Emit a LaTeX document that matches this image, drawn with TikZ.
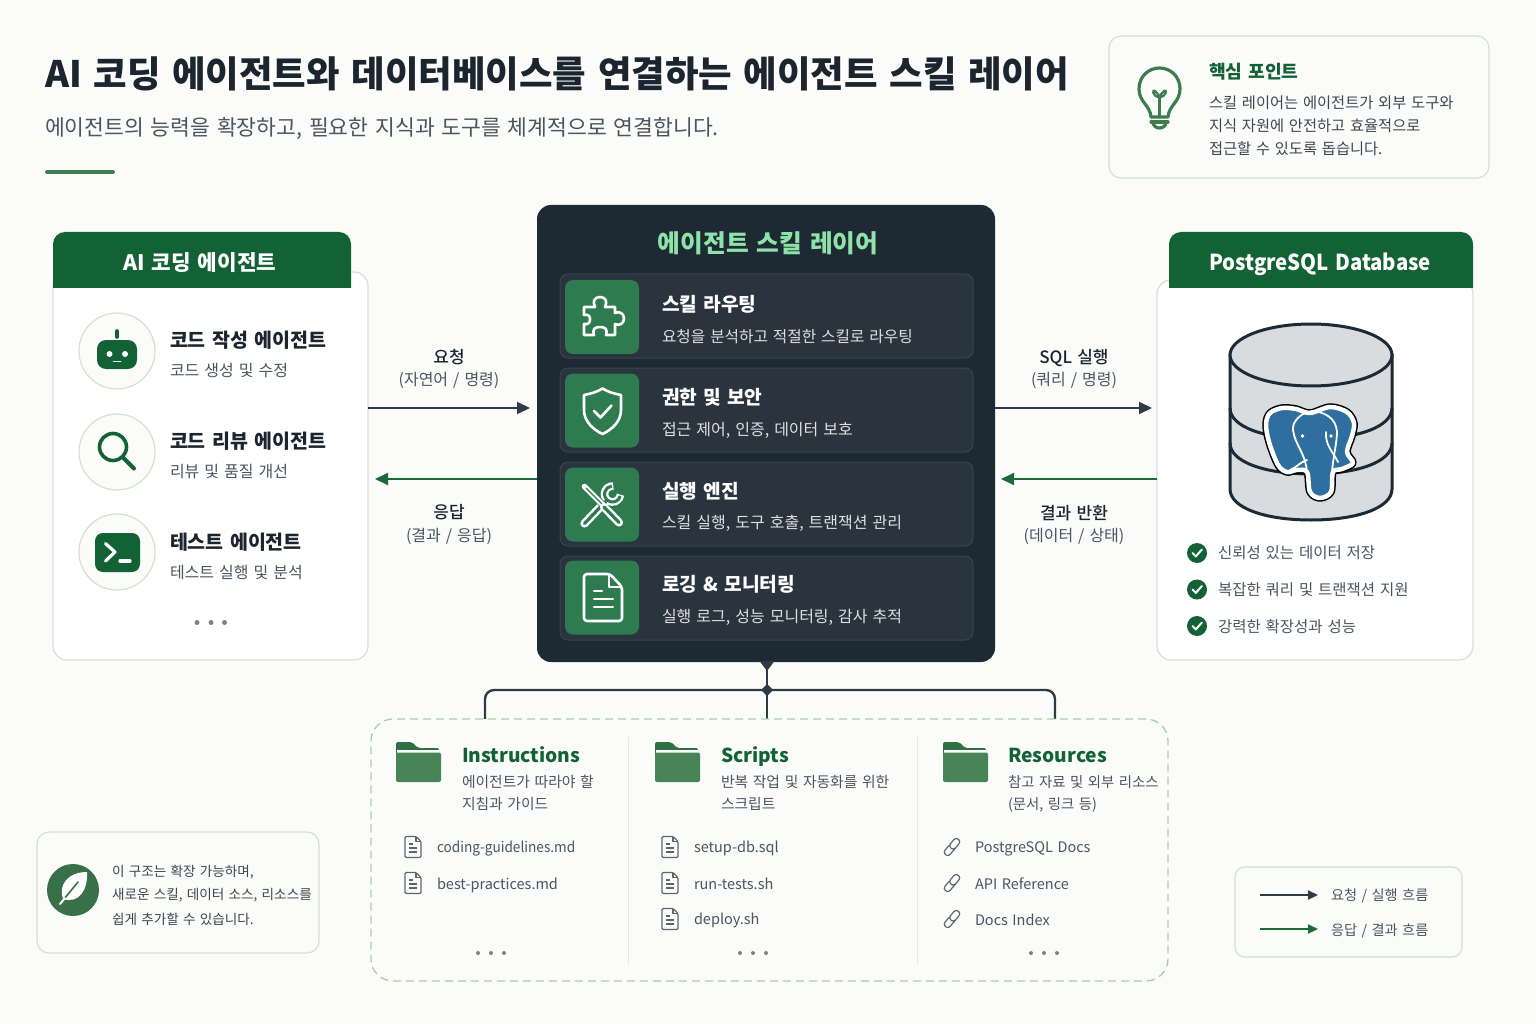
\documentclass[tikz,border=0pt]{standalone}
\usepackage{fontspec}
\setmainfont[WordSpace=1.4]{Noto Sans CJK KR}
\newfontfamily\krm[WordSpace=1.4]{Noto Sans CJK KR Medium}
\usetikzlibrary{arrows.meta,shapes.geometric}
\definecolor{bgc}{HTML}{FBFCFA}
\definecolor{hdrg}{HTML}{136236}
\definecolor{ink}{HTML}{1B2530}
\definecolor{subc}{HTML}{4A5560}
\definecolor{darkp}{HTML}{1E2A33}
\definecolor{rowc}{HTML}{29343E}
\definecolor{rowb}{HTML}{38444E}
\definecolor{tile}{HTML}{2E7B50}
\definecolor{mint}{HTML}{8FE3A9}
\definecolor{panelb}{HTML}{DADFDC}
\definecolor{softb}{HTML}{D2E2D2}
\definecolor{dashg}{HTML}{A5D1A5}
\definecolor{arrd}{HTML}{2F3A45}
\definecolor{arrg}{HTML}{1B6B3A}
\definecolor{folderb}{HTML}{2F7142}
\definecolor{folderf}{HTML}{478556}
\definecolor{bulb}{HTML}{3E7D4F}
\definecolor{pgblue}{HTML}{2F6F9F}
\definecolor{dbgray}{HTML}{D9DCDF}
\newcommand{\fs}[1]{\fontsize{#1}{#1}\selectfont}
\newcommand{\vstrut}{\rule{0pt}{1.04em}\rule[-.14em]{0pt}{.14em}}
\newcommand{\fileic}[2]{\begin{scope}[shift={(#1,#2)}]
\draw[icline,rounded corners=1.2pt] (-8,-10.5) -- (3,-10.5) -- (8,-5.5) -- (8,10.5) -- (-8,10.5) -- cycle;
\draw[icline] (3,-10.5) -- (3,-5.5) -- (8,-5.5);
\draw[icline] (-4,-3) -- (0,-3) (-4,1) -- (4,1) (-4,5) -- (4,5);
\end{scope}}
\newcommand{\linkic}[2]{\begin{scope}[shift={(#1,#2)},rotate=50]
\draw[icline,rounded corners=3pt] (-10,-3.3) rectangle (1.5,3.3);
\draw[icline,rounded corners=3pt,fill=bgc] (-1.5,-3.3) rectangle (10,3.3);
\draw[icline] (-1.5,3.3) -- (1.5,3.3);
\end{scope}}
\newcommand{\folderic}[2]{\begin{scope}[shift={(#1,#2)}]
\fill[folderb,rounded corners=2pt] (0,12) -- (0,0) -- (16,0) -- (22,6) -- (43,6) -- (43,16) -- (0,16) -- cycle;
\fill[white] (1,8) -- (43,8) -- (43,10.8) -- (1,10.8) -- cycle;
\fill[folderf,rounded corners=2pt] (0,10.5) -- (45,10.5) -- (45,40) -- (0,40) -- cycle;
\end{scope}}
\newcommand{\checkic}[2]{\fill[hdrg] (#1,#2) circle[radius=10];
\draw[white,line width=2pt,line cap=round,line join=round] (#1-4.5,#2) -- (#1-1.2,#2+3.4) -- (#1+4.8,#2-3.4);}
\newcommand{\threedots}[3]{\fill[#3] (#1-13,#2) circle[radius=2] (#1,#2) circle[radius=2] (#1+13,#2) circle[radius=2];}
\newcommand{\elephantpath}{plot[smooth cycle,tension=0.55] coordinates {(1310,413) (1296,409) (1282,408) (1270,413) (1266,424) (1269,442) (1278,465) (1287,472) (1297,470) (1307,472) (1310,492) (1320,498) (1331,492) (1333,472) (1342,469) (1353,463) (1347,452) (1352,436) (1354,423) (1347,412) (1330,407)}}
\tikzset{
 x=1pt,y=-1pt,
 lbl/.style={anchor=west,inner sep=0pt,outer sep=0pt,execute at begin node=\vstrut},
 ctr/.style={anchor=center,inner sep=0pt,outer sep=0pt,execute at begin node=\vstrut},
 panel/.style={draw=panelb,fill=white,line width=1.3pt,rounded corners=14pt,inner sep=0pt,outer sep=0pt},
 note/.style={draw=softb,fill=bgc,line width=1.2pt,rounded corners=12pt,inner sep=0pt,outer sep=0pt},
 rowbox/.style={draw=rowb,fill=rowc,line width=1pt,rounded corners=8pt,inner sep=0pt,outer sep=0pt,minimum width=413pt,minimum height=84pt},
 tilebox/.style={fill=tile,rounded corners=8pt,inner sep=0pt,outer sep=0pt,minimum width=74pt,minimum height=74pt},
 avatar/.style={circle,draw=softb,fill=bgc,line width=1.2pt,minimum size=76pt,inner sep=0pt,outer sep=0pt},
 hdtext/.style={ctr,text=white,font=\fs{21.3}\bfseries},
 agt/.style={lbl,text=ink,font=\fs{19.5}\bfseries},
 agd/.style={lbl,text=subc,font=\fs{16}},
 rowt/.style={lbl,text=white,font=\fs{19.2}\bfseries},
 rowd/.style={lbl,text=white!88!black,font=\fs{16}},
 edgelbl/.style={ctr,text=ink,font=\fs{17}\krm},
 edgesub/.style={ctr,text=subc,font=\fs{16}},
 colh/.style={lbl,text=hdrg,font=\fs{19.2}\bfseries},
 cold/.style={lbl,text=subc,font=\fs{14.8}},
 filetxt/.style={lbl,text=subc,font=\fs{14.5}},
 icline/.style={draw=subc!90,line width=1.2pt,line join=round},
 whiteic/.style={draw=white,line width=2.6pt,line join=round,line cap=round},
 darkarrow/.style={draw=arrd,line width=2pt,-{Triangle[length=13pt,width=12pt]}},
 greenarrow/.style={draw=arrg,line width=2pt,-{Triangle[length=13pt,width=12pt]}},
 conn/.style={draw=arrd,line width=2.4pt},
}
\begin{document}
\begin{tikzpicture}
\useasboundingbox (0,0) rectangle (1536,1024);
\fill[bgc] (0,0) rectangle (1536,1024);
% Title
\node[lbl,text=ink,font=\fs{36.45}\bfseries] (title) at (45,71) {AI 코딩 에이전트와 데이터베이스를 연결하는 에이전트 스킬 레이어};
\node[lbl,text=subc,font=\fs{21.55}] (subtitle) at (45,126) {에이전트의 능력을 확장하고, 필요한 지식과 도구를 체계적으로 연결합니다.};
\draw[line width=4pt,draw=bulb,line cap=round] (47,172) -- (113,172);
% Key point
\node[note,minimum width=380pt,minimum height=142pt] (keybox) at (1299,107) {};
\begin{scope}[bulb,line width=3.2pt,line cap=round,line join=round]
\draw[draw=bulb] (1151,117) .. controls (1150,105) and (1139,102) .. (1139,89) .. controls (1139,76) and (1149,68) .. (1159.5,68) .. controls (1170,68) and (1180,76) .. (1180,89) .. controls (1180,102) and (1169,105) .. (1168,117) -- cycle;
\draw[draw=bulb,line width=2.6pt] (1159.5,116) -- (1159.5,97);
\draw[draw=bulb,line width=2.2pt] (1159.5,97) .. controls (1152,97) and (1152,88) .. (1155,91) .. controls (1157,93) and (1159,95) .. (1159.5,97) .. controls (1160,95) and (1162,93) .. (1164,91) .. controls (1167,88) and (1167,97) .. (1159.5,97);
\draw[draw=bulb] (1151,122) -- (1168,122);
\draw[draw=bulb] (1153,122) .. controls (1153,130) and (1166,130) .. (1166,122);
\end{scope}
\node[lbl,text=hdrg,font=\fs{18.2}\bfseries] (keyt) at (1209,70) {핵심 포인트};
\node[lbl,text=ink!85,font=\fs{15.3}] (key1) at (1209,102) {스킬 레이어는 에이전트가 외부 도구와};
\node[lbl,text=ink!85,font=\fs{15.3}] (key2) at (1209,125) {지식 자원에 안전하고 효율적으로};
\node[lbl,text=ink!85,font=\fs{15.3}] (key3) at (1209,148) {접근할 수 있도록 돕습니다.};
% Agents panel
\node[panel,minimum width=315pt,minimum height=388pt] (agents) at (210.5,466) {};
\fill[hdrg] (53,288) -- (53,244) arc[start angle=180,end angle=270,radius=12] -- (339,232) arc[start angle=270,end angle=360,radius=12] -- (351,288) -- cycle;
\node[hdtext] (agentsh) at (200,261) {AI 코딩 에이전트};
\node[avatar] (a1) at (117,351) {};
\node[avatar] (a2) at (117,452) {};
\node[avatar] (a3) at (117,552) {};
\fill[hdrg,rounded corners=9pt] (97,340) rectangle (137,369);
\draw[hdrg,line width=3.6pt,line cap=round] (117,331) -- (117,337);
\fill[white] (109.5,354) circle[radius=3] (125,354) circle[radius=3];
\draw[white,line width=1.6pt,line cap=round] (113.5,361.5) -- (120.5,361.5);
\draw[hdrg,line width=3.6pt] (113,447) circle[radius=13.5];
\draw[hdrg,line width=4pt,line cap=round] (123,457.5) -- (134,468.5);
\fill[hdrg,rounded corners=8pt] (95,533) rectangle (140,572);
\draw[white,line width=3.2pt,line cap=round,line join=round] (105.5,543.5) -- (115,552) -- (105.5,561);
\draw[white,line width=3.2pt,line cap=round] (120,561) -- (130,561);
\node[agt] (a1t) at (170,339) {코드 작성 에이전트};
\node[agd] (a1d) at (170,369) {코드 생성 및 수정};
\node[agt] (a2t) at (170,440) {코드 리뷰 에이전트};
\node[agd] (a2d) at (170,470) {리뷰 및 품질 개선};
\node[agt] (a3t) at (170,541) {테스트 에이전트};
\node[agd] (a3d) at (170,571) {테스트 실행 및 분석};
\fill[gray] (197,622.5) circle[radius=2.5] (211,622.5) circle[radius=2.5] (224.5,622.5) circle[radius=2.5];
% Skill layer
\node[fill=darkp,rounded corners=14pt,minimum width=458pt,minimum height=457pt,inner sep=0pt,outer sep=0pt] (layer) at (766,433.5) {};
\node[ctr,text=mint,font=\fs{24.7}\bfseries] (layert) at (768,241) {에이전트 스킬 레이어};
\node[rowbox] (r1) at (766.5,316) {};
\node[rowbox] (r2) at (766.5,410) {};
\node[rowbox] (r3) at (766.5,504) {};
\node[rowbox] (r4) at (766.5,598) {};
\node[tilebox] (t1) at (602,317) {};
\node[tilebox] (t2) at (602,410.5) {};
\node[tilebox] (t3) at (602,504.5) {};
\node[tilebox] (t4) at (602,597.5) {};
\node[rowt] (r1t) at (662,303) {스킬 라우팅};
\node[rowd,font=\fs{15.7}] (r1d) at (662,335.5) {요청을 분석하고 적절한 스킬로 라우팅};
\node[rowt] (r2t) at (662,396) {권한 및 보안};
\node[rowd] (r2d) at (662,429) {접근 제어, 인증, 데이터 보호};
\node[rowt] (r3t) at (662,490) {실행 엔진};
\node[rowd] (r3d) at (662,522) {스킬 실행, 도구 호출, 트랜잭션 관리};
\node[rowt] (r4t) at (662,583) {로깅 \& 모니터링};
\node[rowd] (r4d) at (662,616) {실행 로그, 성능 모니터링, 감사 추적};
% puzzle
\begin{scope}[shift={(602,317)}]
\draw[whiteic] (-18,-10) -- (-7,-10) .. controls (-10,-16) and (-7,-20) .. (-2,-20) .. controls (3,-20) and (6,-16) .. (3,-10) -- (13,-10) -- (13,-4) .. controls (17,-6) and (22,-4) .. (22,1.5) .. controls (22,7) and (17,9) .. (13,7) -- (13,18) -- (4,18) .. controls (6,12) and (3,10) .. (-2,10) .. controls (-7,10) and (-10,12) .. (-8,18) -- (-18,18) -- (-18,7) .. controls (-13,8) and (-12,5) .. (-12,2) .. controls (-12,-1) and (-14,-3) .. (-18,-2) -- cycle;
\end{scope}
% shield
\draw[whiteic] (602.5,388.5) .. controls (608,392) and (615,394) .. (621,395) -- (621,410) .. controls (621,422) and (611,430) .. (602.5,434) .. controls (594,430) and (584,422) .. (584,410) -- (584,395) .. controls (590,394) and (597,392) .. (602.5,388.5) -- cycle;
\draw[whiteic] (594,411) -- (600.5,417.5) -- (611.5,405.5);
% tools: wrench
\draw[white,line width=8.2pt,line cap=round] (584.5,523.5) -- (606,501);
\draw[white,line width=7.6pt] (612.5,494) ++(5:8) arc[start angle=5,end angle=275,radius=8];
\draw[tile,line width=3.2pt,line cap=round] (584.5,523.5) -- (606,501);
\draw[tile,line width=3pt] (612.5,494) ++(15:8) arc[start angle=15,end angle=265,radius=8];
% tools: screwdriver
\draw[tile,line width=7pt] (584,486) -- (604,506);
\draw[white,line width=5.6pt,line cap=round] (584.5,486.5) -- (603,505);
\draw[tile,line width=1.4pt] (586,488) -- (603,505);
\draw[white,line width=8.2pt,line cap=round] (604,507) -- (619,522.5);
\draw[tile,line width=3.2pt,line cap=round] (604,507) -- (619,522.5);
% document
\draw[whiteic,rounded corners=3pt] (584,574) -- (610,574) -- (622,587) -- (622,621) -- (584,621) -- cycle;
\draw[whiteic] (609,574.5) -- (609,587) -- (621.5,587);
\draw[white,line width=2.4pt,line cap=round] (594,591) -- (602,591) (594,599) -- (613,599) (594,607) -- (613,607);
% DB panel
\node[panel,minimum width=316pt,minimum height=380pt] (db) at (1315,470) {};
\fill[hdrg] (1169,288) -- (1169,244) arc[start angle=180,end angle=270,radius=12] -- (1461,232) arc[start angle=270,end angle=360,radius=12] -- (1473,288) -- cycle;
\node[hdtext] (dbh) at (1320,262) {\scalebox{0.925}[1]{\fs{22}\krm PostgreSQL Database}};
\begin{scope}[draw=ink,line width=3pt]
\filldraw[fill=dbgray,draw=darkp] (1230,355) -- (1230,489) .. controls (1230,508) and (1265,520) .. (1311,520) .. controls (1357,520) and (1392,508) .. (1392,489) -- (1392,355) -- cycle;
\draw[draw=darkp] (1230,408) .. controls (1230,427) and (1265,439) .. (1311,439) .. controls (1357,439) and (1392,427) .. (1392,408);
\draw[draw=darkp] (1230,443) .. controls (1230,462) and (1265,474) .. (1311,474) .. controls (1357,474) and (1392,462) .. (1392,443);
\filldraw[fill=dbgray,draw=darkp] (1311,355) ellipse[x radius=81,y radius=31];
\end{scope}
\draw[black,line width=7.5pt,line join=round] \elephantpath;
\draw[white,line width=4.5pt,line join=round,fill=pgblue] \elephantpath;
\draw[white,line width=1.8pt,line cap=round] (1293,430) .. controls (1292,422) and (1300,413) .. (1312,411) .. controls (1325,412) and (1336,418) .. (1337,432) .. controls (1337,442) and (1333,458) .. (1332,472);
\draw[white,line width=1.8pt,line cap=round] (1293,430) .. controls (1295,445) and (1305,452) .. (1307,472);
\draw[white,line width=1.8pt,line cap=round] (1326,432) .. controls (1325,445) and (1333,452) .. (1338,462);
\draw[white,line width=1.8pt,line cap=round] (1307,460) .. controls (1300,462) and (1296,468) .. (1290,470);
\fill[white] (1302.5,436) circle[radius=1.8] (1331,436) circle[radius=1.8];
\checkic{1197}{553}
\checkic{1197}{589.5}
\checkic{1197}{626}
\node[lbl,text=subc,font=\fs{15.5}] (c1) at (1218,552) {신뢰성 있는 데이터 저장};
\node[lbl,text=subc,font=\fs{15.5}] (c2) at (1218,589) {복잡한 쿼리 및 트랜잭션 지원};
\node[lbl,text=subc,font=\fs{15.5}] (c3) at (1218,626) {강력한 확장성과 성능};
% Flow arrows
\coordinate (yreq) at (0,408);
\coordinate (yres) at (0,479);
\draw[darkarrow,shorten >=7pt] (agents.east |- yreq) -- (layer.west |- yreq);
\draw[greenarrow,shorten >=7pt] (layer.west |- yres) -- (agents.east |- yres);
\draw[darkarrow,shorten >=5pt] (layer.east |- yreq) -- (db.west |- yreq);
\draw[greenarrow,shorten >=6pt] (db.west |- yres) -- (layer.east |- yres);
\node[edgelbl] (l1) at (449,356) {요청};
\node[edgesub] (l1s) at (449,379) {(자연어 / 명령)};
\node[edgelbl] (l2) at (449,511) {응답};
\node[edgesub] (l2s) at (449,535) {(결과 / 응답)};
\node[edgelbl] (l3) at (1074,356) {SQL 실행};
\node[edgesub] (l3s) at (1074,379) {(쿼리 / 명령)};
\node[edgelbl] (l4) at (1074,512) {결과 반환};
\node[edgesub] (l4s) at (1074,535) {(데이터 / 상태)};
% Tree connector
\coordinate (jct) at (767,690);
\coordinate (cl) at (485,719);
\coordinate (cm) at (767,719);
\coordinate (cr) at (1055,719);
\draw[conn] (jct |- layer.south) -- (jct);
\draw[conn] (jct) -- (cm);
\draw[conn,rounded corners=9pt] (cl) -- (cl |- jct) -- (cr |- jct) -- (cr);
\fill[arrd] (759.5,661) -- (774.5,661) -- (767,671) -- cycle;
\fill[arrd] (761,690) -- (767,684) -- (773,690) -- (767,696) -- cycle;
% Resource box
\node[draw=dashg,fill=bgc,line width=1.3pt,dash pattern=on 8pt off 5pt,rounded corners=22pt,minimum width=797pt,minimum height=262pt,inner sep=0pt,outer sep=0pt] (skills) at (769.5,850) {};
\draw[draw=panelb!70,line width=1pt] (628,737) -- (628,965) (917,737) -- (917,965);
\folderic{396}{742}
\folderic{655}{742}
\folderic{943}{742}
\node[colh] (h1) at (462,754) {Instructions};
\node[cold] (h1a) at (462,781) {에이전트가 따라야 할};
\node[cold] (h1b) at (462,803) {지침과 가이드};
\node[colh] (h2) at (721,754) {Scripts};
\node[cold] (h2a) at (721,781) {반복 작업 및 자동화를 위한};
\node[cold] (h2b) at (721,803) {스크립트};
\node[colh] (h3) at (1008,754) {Resources};
\node[cold,font=\fs{14.4}] (h3a) at (1008,781) {참고 자료 및 외부 리소스};
\node[cold,font=\fs{14.4}] (h3b) at (1008,803) {(문서, 링크 등)};
\fileic{413}{847}
\fileic{413}{883}
\fileic{670}{847}
\fileic{670}{883}
\fileic{670}{919}
\linkic{952}{847}
\linkic{952}{883}
\linkic{952}{919}
\node[filetxt] (f1) at (437,847) {\scalebox{0.94}[1]{coding-guidelines.md}};
\node[filetxt] (f2) at (437,884) {best-practices.md};
\node[filetxt] (f3) at (694,847) {setup-db.sql};
\node[filetxt] (f4) at (694,883) {run-tests.sh};
\node[filetxt] (f5) at (694,919) {deploy.sh};
\node[filetxt] (f6) at (975,847) {PostgreSQL Docs};
\node[filetxt] (f7) at (975,883) {API Reference};
\node[filetxt] (f8) at (975,919) {Docs Index};
\threedots{491}{953}{gray}
\threedots{753}{953}{gray}
\threedots{1044}{953}{gray}
% Left note
\node[note,minimum width=282pt,minimum height=121pt] (leftnote) at (178,892.5) {};
\fill[bulb!90!black] (73,890) circle[radius=26];
\fill[white] (63,899) .. controls (58,885) and (68,872) .. (87,872) .. controls (88,890) and (79,904) .. (63,899) -- cycle;
\draw[bulb!90!black,line width=1.6pt,line cap=round] (64,899) -- (78,882);
\draw[white,line width=2pt,line cap=round] (60,904) -- (65,898);
\node[lbl,text=ink!85,font=\fs{13.6}] (n1) at (112,871) {이 구조는 확장 가능하며,};
\node[lbl,text=ink!85,font=\fs{13.6}] (n2) at (112,894) {새로운 스킬, 데이터 소스, 리소스를};
\node[lbl,text=ink!85,font=\fs{13.6}] (n3) at (112,918) {쉽게 추가할 수 있습니다.};
% Legend
\node[note,minimum width=227pt,minimum height=90pt,rounded corners=10pt] (legend) at (1348.5,912) {};
\coordinate (lg1a) at (1260,895);
\coordinate (lg1b) at (1318,895);
\coordinate (lg2a) at (1260,929);
\coordinate (lg2b) at (1318,929);
\draw[draw=arrd,line width=2pt,-{Triangle[length=10pt,width=9pt]}] (lg1a) -- (lg1b);
\draw[draw=arrg,line width=2pt,-{Triangle[length=10pt,width=9pt]}] (lg2a) -- (lg2b);
\node[lbl,text=subc,font=\fs{14.2}] (lg1) at (1331,894) {요청 / 실행 흐름};
\node[lbl,text=subc,font=\fs{14.2}] (lg2) at (1331,929) {응답 / 결과 흐름};
\end{tikzpicture}
\end{document}
